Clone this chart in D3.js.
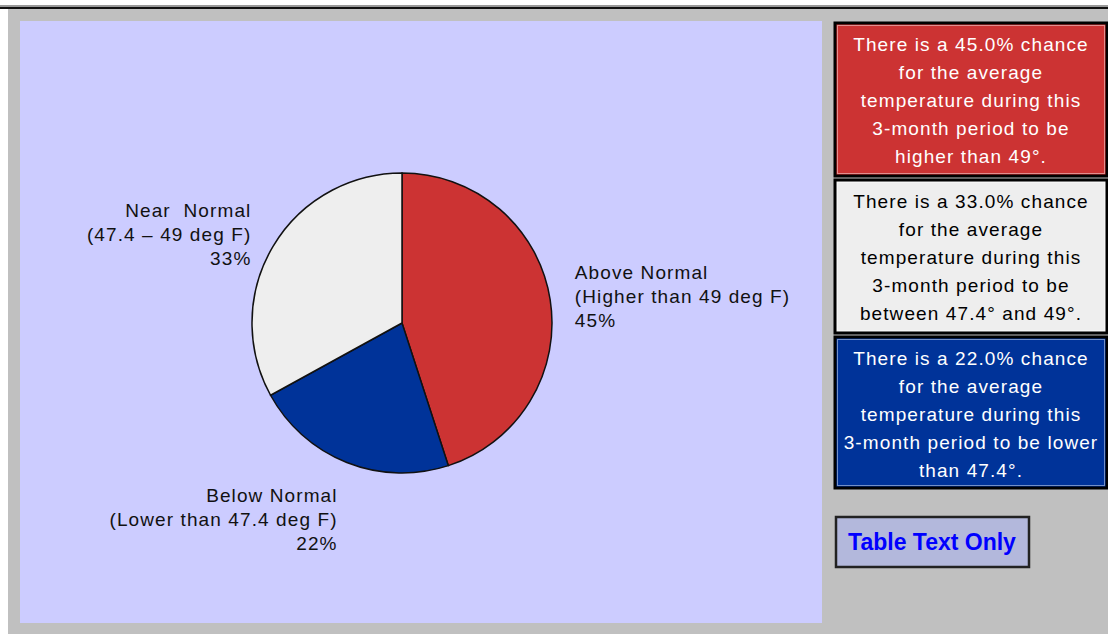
<!DOCTYPE html>
<html>
  <head>
    <meta charset="utf-8">
    <title>3-Month Temperature Outlook</title>
    <style>
      html, body {
        margin: 0;
        padding: 0;
        background: #ffffff;
      }
      text {
        font-family: "Liberation Sans", Arial, sans-serif;
        white-space: pre;
      }
    </style>
  </head>
  <body>
    <script src="https://cdn.jsdelivr.net/npm/d3@7"></script>
    <div id="chart"></div>
    <script>

      // Outlook categories (box order: above, near, below)
      var categories = ['Above Normal', 'Near  Normal', 'Below Normal']
      var ranges = ['Higher than 49 deg F', '47.4 \u2013 49 deg F', 'Lower than 47.4 deg F']
      var values = [45, 33, 22]
      var boxEnding = ['higher than 49\u00b0.', 'between 47.4\u00b0 and 49\u00b0.', 'lower than 47.4\u00b0.']
      var colors = ['#cc3333', '#eeeeee', '#003399']
      var textColors = ['#ffffff', '#000000', '#ffffff']

      // pie goes clockwise from 12 o'clock: above, below, near
      var pieOrder = [0, 2, 1]

      var W = 1108, H = 635

      var svg = d3.select('#chart')
        .append('svg')
        .attr('width', W)
        .attr('height', H)

      // page frame
      svg.append('rect').attr('x', 0).attr('y', 5).attr('width', W).attr('height', 2).attr('fill', '#999999')
      svg.append('rect').attr('x', 0).attr('y', 7).attr('width', W).attr('height', 2).attr('fill', '#111111')
      svg.append('rect').attr('x', 8).attr('y', 9).attr('width', W - 8).attr('height', 625).attr('fill', '#c0c0c0')

      // pie panel
      svg.append('rect')
        .attr('x', 20).attr('y', 21)
        .attr('width', 802).attr('height', 602)
        .attr('fill', '#ccccff')

      var cx = 402, cy = 323, radius = 150, labelR = 175

      var pieData = d3.pie().sort(null)(pieOrder.map(function(i){ return values[i] }))
        .map(function(p, k){ p.idx = pieOrder[k]; return p })

      var arc = d3.arc().innerRadius(0).outerRadius(radius)

      var pie = svg.append('g').attr('transform', 'translate(' + cx + ',' + cy + ')')

      pie.selectAll('path')
        .data(pieData)
        .enter()
        .append('path')
        .attr('d', arc)
        .attr('fill', function(d){ return colors[d.idx] })
        .attr('stroke', '#111111')
        .attr('stroke-width', 1.5)

      // slice labels
      var labels = pie.selectAll('g.lab')
        .data(pieData)
        .enter()
        .append('g')
        .attr('class', 'lab')
        .each(function(d){
          var a = (d.startAngle + d.endAngle) / 2
          var x = Math.sin(a) * labelR
          var y = -Math.cos(a) * labelR
          var bottom = Math.abs(a - Math.PI) < Math.PI / 4
          var anchor = bottom ? 'end' : (x > 0 ? 'start' : 'end')
          var first = bottom ? y + 16 : y - 17
          var lines = [categories[d.idx], '(' + ranges[d.idx] + ')', values[d.idx] + '%']
          var g = d3.select(this)
          lines.forEach(function(t, j){
            g.append('text')
              .attr('x', x)
              .attr('y', first + j * 24)
              .attr('text-anchor', anchor)
              .style('font-size', '19px')
              .style('letter-spacing', '1.1px')
              .attr('fill', '#111111')
              .text(t)
          })
        })

      // text boxes on the right
      var boxTop = [23, 180, 337]
      var boxH = [153, 153, 151]

      categories.forEach(function(c, i){
        var g = svg.append('g')
        g.append('rect')
          .attr('x', 835).attr('y', boxTop[i])
          .attr('width', 272).attr('height', boxH[i])
          .attr('fill', colors[i])
          .attr('stroke', '#000000')
          .attr('stroke-width', 3)
        g.append('rect')
          .attr('x', 837.5).attr('y', boxTop[i] + 2.5)
          .attr('width', 267).attr('height', boxH[i] - 5)
          .attr('fill', 'none')
          .attr('stroke', 'rgba(255,255,255,0.45)')
          .attr('stroke-width', 1)

        var lines = ['There is a ' + values[i].toFixed(1) + '% chance',
                     'for the average',
                     'temperature during this']
        if (i == 2) {
          lines.push('3-month period to be lower')
          lines.push('than 47.4\u00b0.')
        } else {
          lines.push('3-month period to be')
          lines.push(boxEnding[i])
        }
        lines.forEach(function(t, j){
          g.append('text')
            .attr('x', 971)
            .attr('y', boxTop[i] + 28 + j * 28)
            .attr('text-anchor', 'middle')
            .style('font-size', '19px')
            .style('letter-spacing', '1.1px')
            .attr('fill', textColors[i])
            .text(t)
        })
      })

      // button
      svg.append('rect')
        .attr('x', 836).attr('y', 517)
        .attr('width', 193).attr('height', 50)
        .attr('fill', '#b3b8dc')
        .attr('stroke', '#222222')
        .attr('stroke-width', 2.5)

      svg.append('text')
        .attr('x', 932)
        .attr('y', 550)
        .attr('text-anchor', 'middle')
        .style('font-size', '23px')
        .style('font-weight', 'bold')
        .attr('fill', '#0000ff')
        .text('Table Text Only')

    </script>
  </body>
</html>
